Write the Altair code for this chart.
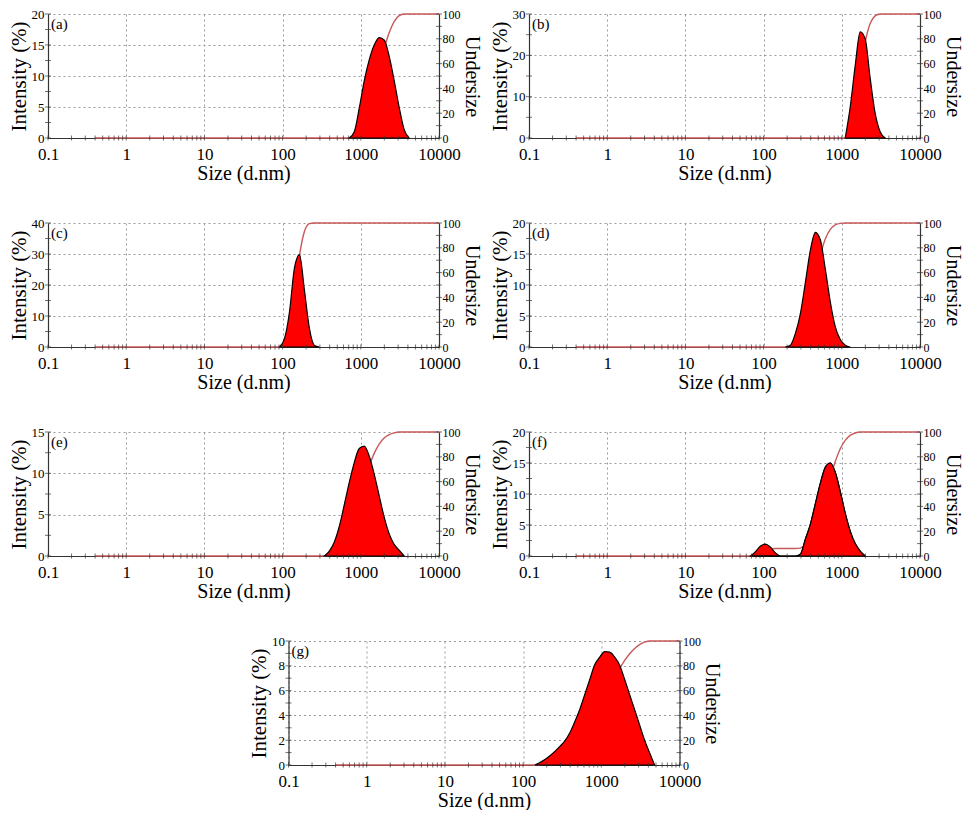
import altair as alt
import pandas as pd

# ---------------- data ----------------
SIZES = [0.4, 0.4632, 0.5365, 0.6213, 0.7195, 0.8332, 0.9649, 1.117, 1.294, 1.499,
         1.736, 2.010, 2.328, 2.696, 3.122, 3.615, 4.187, 4.849, 5.615, 6.503,
         7.531, 8.721, 10.10, 11.70, 13.54, 15.69, 18.17, 21.04, 24.36, 28.21,
         32.67, 37.84, 43.82, 50.75, 58.77, 68.06, 78.82, 91.28, 105.7, 122.4,
         141.8, 164.2, 190.1, 220.2, 255.0, 295.3, 342.0, 396.1, 458.7, 531.2,
         615.1, 712.4, 825.0, 955.4, 1106, 1281, 1484, 1718, 1990, 2305,
         2669, 3091, 3580, 4145, 4801, 5560, 6439, 7456, 8635, 10000]

A_SIZE = [712.4, 825.0, 955.4, 1106, 1281, 1484, 1718, 1990, 2305, 2669, 3091, 3580, 4145]
A_INT = [0, 1.0, 4.8, 9.2, 12.6, 15.0, 16.2, 15.8, 13.2, 9.3, 5.0, 1.4, 0]

B_SIZE = [1106, 1281, 1484, 1718, 1990, 2305, 2669, 3091, 3580]
B_INT = [0, 7.5, 17.5, 25.7, 24.0, 14.5, 6.0, 1.5, 0]

C_SIZE = [91.28, 105.7, 122.4, 141.8, 164.2, 190.1, 220.2, 255.0, 295.3]
C_INT = [0, 2.7, 11.3, 25.5, 29.8, 18.4, 6.0, 0.5, 0]

D_SIZE = [190.1, 220.2, 255.0, 295.3, 342.0, 396.1, 458.7, 531.2, 615.1, 712.4, 825.0, 955.4, 1106, 1281]
D_INT = [0, 0.3, 2.2, 5.4, 10.4, 15.6, 18.5, 17.3, 12.6, 7.3, 3.3, 1.2, 0.3, 0]

E_SIZE = [342.0, 396.1, 458.7, 531.2, 615.1, 712.4, 825.0, 955.4, 1106, 1281, 1484, 1718,
          1990, 2305, 2669, 3091, 3580]
E_INT = [0, 0.6, 1.7, 3.6, 6.2, 8.9, 11.3, 13.0, 13.3, 12.1, 9.9, 7.3, 4.7, 2.7, 1.4, 0.7, 0]

F1_SIZE = [68.06, 78.82, 91.28, 105.7, 122.4, 141.8, 164.2]
F1_INT = [0, 0.7, 1.6, 1.9, 1.4, 0.5, 0]
F2_SIZE = [255.0, 295.3, 342.0, 396.1, 458.7, 531.2, 615.1, 712.4, 825.0, 955.4, 1106, 1281,
           1484, 1718, 1990]
F2_INT = [0, 0.3, 2.7, 5.1, 8.4, 11.7, 14.3, 15.0, 13.5, 10.4, 6.9, 4.0, 2.0, 0.8, 0]

G_SIZE = [141.8, 164.2, 190.1, 220.2, 255.0, 295.3, 342.0, 396.1, 458.7, 531.2, 615.1, 712.4,
          825.0, 955.4, 1106, 1281, 1484, 1718, 1990, 2305, 2669, 3091, 3580, 4145, 4801]
G_INT = [0, 0.2, 0.45, 0.75, 1.1, 1.5, 1.95, 2.6, 3.5, 4.5, 5.7, 6.9, 8.1, 8.7, 9.15, 9.1, 8.7,
         8.05, 6.9, 5.67, 4.46, 3.23, 2.0, 0.98, 0]

X_MAJOR = [0.1, 1, 10, 100, 1000, 10000]
X_DECADES = [0.1, 1, 10, 100, 1000]
X_MULT = [2, 3, 4, 5, 6, 7, 8, 9]
R_MAJOR = [0, 20, 40, 60, 80, 100]

# ---------------- style ----------------
FONT = "Liberation Serif"
AX_C = "#333333"
LINE_C = "#c8585a"
W, H = 391, 124


def panel(label, ymax, ystep, yminor, segments):
    rows = []
    for k, (xs, ys) in enumerate(segments):
        for s, v in zip(xs, ys):
            rows.append({"size": s, "intensity": v, "seg": k})
    peak = pd.DataFrame(rows)
    lookup = {s: v for xs, ys in segments for s, v in zip(xs, ys)}
    full = pd.DataFrame({"size": SIZES, "intensity": [lookup.get(s, 0.0) for s in SIZES]})

    nmaj = int(round(ymax / ystep))
    nmin = int(round(ymax / yminor))
    y_major = [i * ystep for i in range(nmaj + 1)]
    y_all = [i * yminor for i in range(nmin + 1)]
    r_all = [i * 10 for i in range(11)]
    x_all = X_MAJOR + [m * d for d in X_DECADES for m in X_MULT]

    xscale = alt.Scale(type="log", domain=[0.1, 10000], nice=False)
    xaxis = alt.Axis(values=X_MAJOR, format="~g", title="Size (d.nm)", grid=True, ticks=False,
                     labelFlush=False, labelOverlap=False, labelFontSize=17, titleFontSize=20,
                     labelPadding=8, titlePadding=1)
    ly = alt.Scale(domain=[0, ymax], nice=False, zero=True)
    laxis = alt.Axis(orient="left", values=y_major, title="Intensity (%)", grid=True, ticks=False,
                     labelFontSize=13, titleFontSize=21, labelPadding=4, titlePadding=2)
    ry = alt.Scale(domain=[0, 100], nice=False)
    raxis = alt.Axis(orient="right", values=R_MAJOR, title="Undersize", grid=False, ticks=False,
                     labelFontSize=12, titleFontSize=20, labelPadding=3, titlePadding=1)

    line = (
        alt.Chart(full)
        .transform_window(cum="sum(intensity)", sort=[alt.SortField("size", order="ascending")],
                          frame=[None, 0])
        .transform_joinaggregate(total="sum(intensity)")
        .transform_calculate(under="100 * datum.cum / datum.total")
        .mark_line(color=LINE_C, strokeWidth=1.4, interpolate="monotone")
        .encode(x=alt.X("size:Q", scale=xscale, axis=xaxis),
                y=alt.Y("under:Q", scale=ry, axis=raxis))
    )
    rticks = (
        alt.Chart(pd.DataFrame({"u": r_all}))
        .mark_tick(orient="horizontal", size=6, thickness=1, color=AX_C)
        .encode(x=alt.value(W), y=alt.Y("u:Q", scale=ry, axis=raxis))
    )
    right = alt.layer(line, rticks)

    area = (
        alt.Chart(peak)
        .mark_area(color="#ff0000", stroke="black", strokeWidth=1.2, interpolate="monotone",
                   opacity=1)
        .encode(x=alt.X("size:Q", scale=xscale, axis=xaxis),
                y=alt.Y("intensity:Q", scale=ly, axis=laxis),
                detail="seg:N")
    )
    lticks = (
        alt.Chart(pd.DataFrame({"v": y_all}))
        .mark_tick(orient="horizontal", size=6, thickness=1, color=AX_C)
        .encode(x=alt.value(0), y=alt.Y("v:Q", scale=ly, axis=laxis))
    )
    xticks = (
        alt.Chart(pd.DataFrame({"xv": x_all}))
        .mark_tick(orient="vertical", size=5, thickness=1, color=AX_C)
        .encode(x=alt.X("xv:Q", scale=xscale, axis=xaxis), y=alt.value(H))
    )
    text = (
        alt.Chart(pd.DataFrame({"label": [label]}))
        .mark_text(font=FONT, fontSize=15, align="left", baseline="middle", color="black")
        .encode(x=alt.value(3), y=alt.value(10), text="label:N")
    )
    left = alt.layer(area, lticks, xticks, text)
    return alt.layer(right, left).resolve_scale(y="independent").properties(width=W, height=H)


pa = panel("(a)", 20, 5, 2.5, [(A_SIZE, A_INT)])
pb = panel("(b)", 30, 10, 5, [(B_SIZE, B_INT)])
pc = panel("(c)", 40, 10, 5, [(C_SIZE, C_INT)])
pd_ = panel("(d)", 20, 5, 2.5, [(D_SIZE, D_INT)])
pe = panel("(e)", 15, 5, 2.5, [(E_SIZE, E_INT)])
pf = panel("(f)", 20, 5, 2.5, [(F1_SIZE, F1_INT), (F2_SIZE, F2_INT)])
pg = panel("(g)", 10, 2, 1, [(G_SIZE, G_INT)])

HS = 8
row1 = alt.hconcat(pa, pb, spacing=HS)
row2 = alt.hconcat(pc, pd_, spacing=HS)
row3 = alt.hconcat(pe, pf, spacing=HS)

chart = (
    alt.vconcat(row1, row2, row3, pg, spacing=34, center=True)
    .properties(padding={"left": 0, "top": 0, "right": 6, "bottom": 0})
    .configure_view(stroke=None)
    .configure_axis(domainColor=AX_C, domainWidth=1.2, labelColor="black", titleColor="black",
                    labelFont=FONT, titleFont=FONT, titleFontWeight="normal",
                    gridColor="#9a9a9a", gridDash=[2, 3], gridWidth=1, gridOpacity=1)
)

chart.save("out.html", embed_options={"renderer": "svg", "actions": False})
